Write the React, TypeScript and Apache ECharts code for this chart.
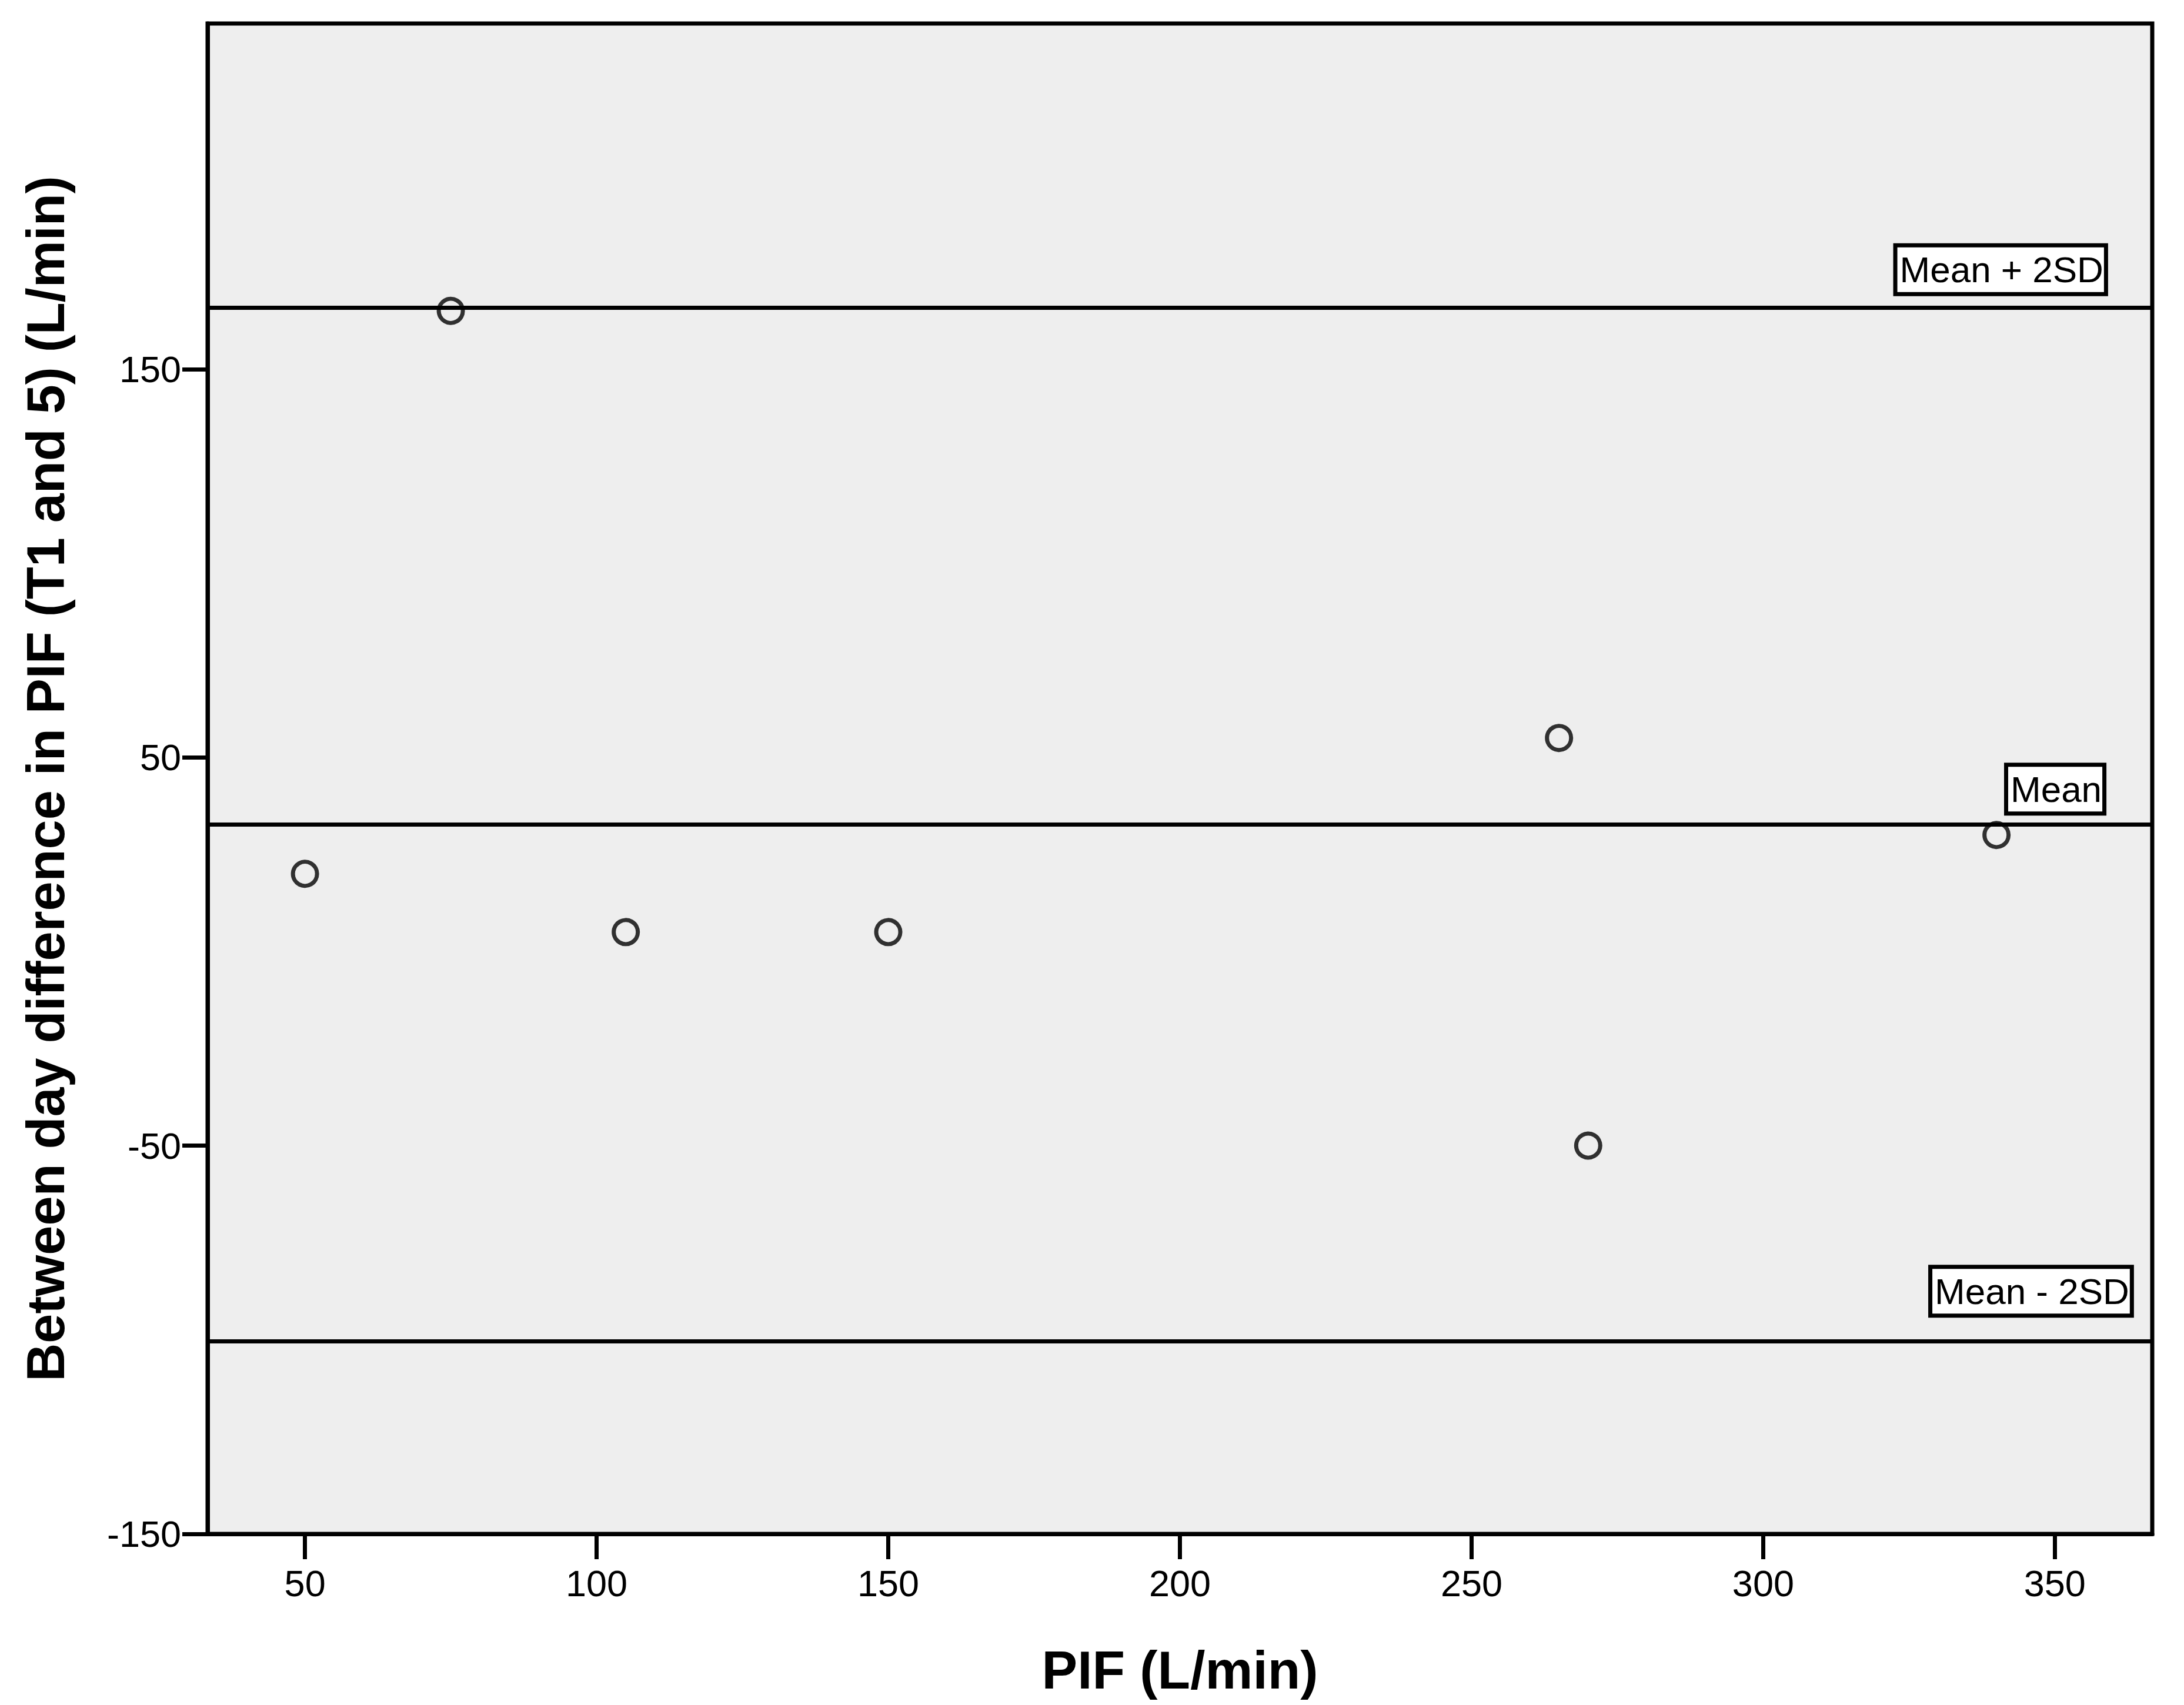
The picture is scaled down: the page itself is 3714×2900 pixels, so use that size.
import React, { useEffect, useRef } from "react";
import * as echarts from "echarts";

// Data
const pifValues = [50, 75, 105, 150, 265, 270, 340];
const diffValues = [20, 165, 5, 5, 55, -50, 30];

// Reference lines (Bland-Altman style)
const refLineNames = ["Mean + 2SD", "Mean", "Mean - 2SD"];
const refLineValues = [165.8, 32.7, -100.4];
// label anchors in data coordinates (left edge x, centre y)
const refLabelX = [323, 342, 329];
const refLabelY = [175.6, 41.8, -87.5];

// axis ticks
const xTicks = [50, 100, 150, 200, 250, 300, 350];
const yTicks = [-150, -50, 50, 150];
const xRange = [33.3, 366.7];
const yRange = [-150, 239];

const xTitle = "PIF (L/min)";
const yTitle = "Between day difference in PIF (T1 and 5) (L/min)";

const FONT = "'Liberation Sans', Arial, Helvetica, sans-serif";

export default function App() {
  const ref = useRef<HTMLDivElement>(null);

  useEffect(() => {
    document.body.style.margin = "0";
    if (!ref.current) return;
    const chart = echarts.init(ref.current, undefined, { renderer: "svg" });

    const axisLine = { show: true, onZero: false, lineStyle: { color: "#000", width: 7 } };

    chart.setOption({
      animation: false,
      backgroundColor: "#ffffff",
      grid: {
        left: 353,
        right: 54,
        top: 40,
        bottom: 291,
        show: true,
        backgroundColor: "#eeeeee",
        borderColor: "#000",
        borderWidth: 7,
      },
      xAxis: {
        type: "value",
        min: xRange[0],
        max: xRange[1],
        axisLine,
        axisTick: { show: true, length: 43, lineStyle: { color: "#000", width: 7 }, customValues: xTicks },
        axisLabel: {
          color: "#000",
          fontSize: 63,
          fontFamily: FONT,
          margin: 52,
          customValues: xTicks,
        },
        splitLine: { show: false },
        name: xTitle,
        nameLocation: "middle",
        nameGap: 186,
        nameTextStyle: { color: "#000", fontSize: 91, fontWeight: "bold", fontFamily: FONT },
      },
      yAxis: {
        type: "value",
        min: yRange[0],
        max: yRange[1],
        axisLine,
        axisTick: { show: true, length: 43, lineStyle: { color: "#000", width: 7 }, customValues: yTicks },
        axisLabel: {
          color: "#000",
          fontSize: 63,
          fontFamily: FONT,
          margin: 45,
          padding: [18, 0, 0, 0],
          customValues: yTicks,
        },
        splitLine: { show: false },
        name: yTitle,
        nameLocation: "middle",
        nameGap: 230,
        nameTextStyle: { color: "#000", fontSize: 90, fontWeight: "bold", fontFamily: FONT },
      },
      series: [
        {
          type: "scatter",
          data: pifValues.map((x, i) => [x, diffValues[i]]),
          symbol: "circle",
          symbolSize: 41,
          itemStyle: { color: "rgba(0,0,0,0)", borderColor: "#000", borderWidth: 7 },
          z: 3,
          markLine: {
            silent: true,
            symbol: ["none", "none"],
            label: { show: false },
            lineStyle: { color: "#000", width: 7, type: "solid" },
            data: refLineValues.map((v) => ({ yAxis: v })),
            z: 2,
          },
        },
      ],
    });

    const graphics = refLineNames.map((name, i) => {
      const p = chart.convertToPixel({ gridIndex: 0 }, [refLabelX[i], refLabelY[i]]) as number[];
      return {
        type: "text",
        x: p[0],
        y: p[1],
        z: 10,
        style: {
          text: name,
          fill: "#000",
          font: `62px ${FONT}`,
          align: "left",
          verticalAlign: "middle",
          backgroundColor: "#ffffff",
          borderColor: "#000",
          borderWidth: 7,
          padding: [8, 1, 6, 4],
        },
      };
    });
    chart.setOption({ graphic: graphics });

    return () => chart.dispose();
  }, []);

  return <div ref={ref} style={{ width: 3714, height: 2900 }} />;
}
